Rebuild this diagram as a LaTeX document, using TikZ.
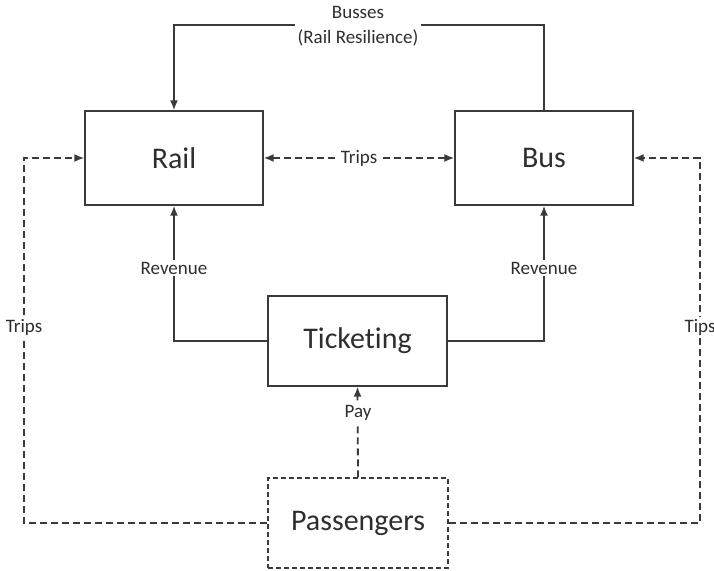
\documentclass[tikz,border=0pt]{standalone}
\usepackage{fontspec}
\setmainfont{Carlito}[Ligatures=NoCommon]
\usetikzlibrary{arrows.meta}
\definecolor{ln}{HTML}{3A3A3A}
\definecolor{tx}{HTML}{2E2E2E}
\tikzset{
  box/.style={draw=ln, line width=1.3pt, minimum width=178pt, minimum height=94pt, inner sep=0pt, font=\fontsize{30}{36}\selectfont, text=tx},
  dbox/.style={box, dash pattern=on 5pt off 3pt},
  tip/.style={},
  conn/.style={draw=ln, line width=1.8pt, -{Latex[length=10pt,width=8pt]}},
  dconn/.style={conn, dash pattern=on 7pt off 4pt},
  lbl/.style={fill=white, inner sep=2pt, font=\fontsize{19}{22}\selectfont, text=tx},
}
\begin{document}
\begin{tikzpicture}[x=1pt,y=-1pt]
\useasboundingbox (0,0) rectangle (714,570);
\node[box] (rail) at (174,158) {Rail};
\node[box] (bus) at (544,158) {Bus};
\node[box, minimum width=179pt, minimum height=90pt] (tick) at (357.5,341) {Ticketing};
\node[dbox, minimum width=180pt, minimum height=90pt] (pass) at (358,523) {Passengers};
\coordinate (tl) at (174,25);
\coordinate (tr) at (544,25);
\coordinate (ll) at (24,523);
\coordinate (lu) at (24,158);
\coordinate (rl) at (700,523);
\coordinate (ru) at (700,158);
\coordinate (revl) at (174,341);
\coordinate (revr) at (544,341);
\draw[conn] (bus.north) -- (tr) -- (tl) -- (rail.north);
\node[lbl, align=center, inner sep=3pt, font=\fontsize{19}{25}\selectfont] (busses) at (358,26) {Busses\\(Rail Resilience)};
\draw[dconn, {Latex[length=10pt,width=8pt]}-{Latex[length=10pt,width=8pt]}] (rail.east) -- (bus.west) node[lbl, midway] (trips) {Trips};
\draw[dconn] (pass.west) -- (ll) -- (lu) -- (rail.west);
\node[lbl] (tripsl) at (24,327) {Trips};
\draw[dconn] (pass.east) -- (rl) -- (ru) -- (bus.east);
\node[lbl] (tipsr) at (700,327) {Tips};
\draw[conn] (tick.west) -- (revl) -- (rail.south);
\node[lbl] (rev1) at (174,268) {Revenue};
\draw[conn] (tick.east) -- (revr) -- (bus.south);
\node[lbl] (rev2) at (544,268) {Revenue};
\draw[dconn] (pass.north) -- (tick.south);
\node[lbl] (pay) at (358,413) {Pay};
\end{tikzpicture}
\end{document}
